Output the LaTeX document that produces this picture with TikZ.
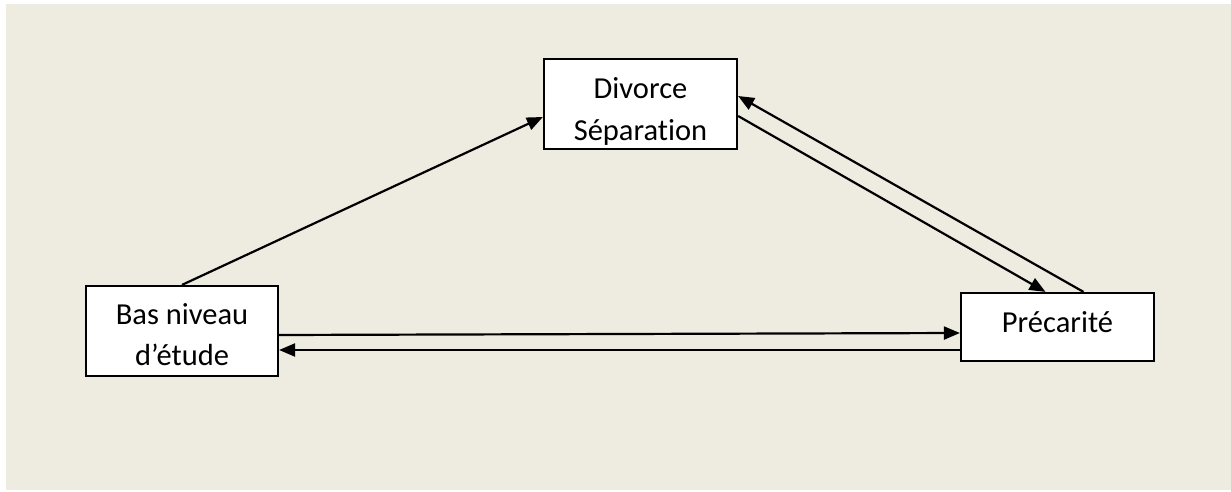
\documentclass[tikz,border=0pt]{standalone}
\usepackage{fontspec}
\setmainfont[Ligatures={NoCommon}]{Carlito}
\usetikzlibrary{arrows.meta}
\definecolor{bgbeige}{HTML}{EEEBE0}
\begin{document}
\begin{tikzpicture}[x=1pt,y=1pt,
  box/.style={draw=black, line width=2.2pt, fill=white, minimum width=193pt,
    minimum height=90pt, inner sep=0pt},
  lbl/.style={font=\fontsize{30.5}{41}\selectfont, align=center, inner sep=0pt},
  link/.style={line width=2.2pt, -{Triangle[length=16pt,width=13pt]}}]
% page and shaded panel
\fill[white] (0,0) rectangle (1231,491);
\fill[bgbeige] (6,1) rectangle (1231,487);
% boxes
\node[box] (div) at (640.5,387) {};
\node[box, minimum width=192pt] (bas) at (182,160) {};
\node[box, minimum height=68pt] (prec) at (1057.5,164) {};
% labels (base anchor sits on the last line)
\node[lbl, anchor=base] (divtxt) at ([yshift=-36pt]div.center) {Divorce\\Séparation};
\node[lbl, anchor=base] (bastxt) at ([yshift=-34pt]bas.center) {Bas niveau\\d’étude};
\node[lbl, anchor=base] (prectxt) at ([yshift=-5pt]prec.center) {Précarité};
% links
\draw[link] (bas.north) -- ([yshift=-13pt]div.west);
\draw[link] ([yshift=-12pt]div.east) -- ([xshift=-12pt]prec.north);
\draw[link] ([xshift=26pt]prec.north) -- ([yshift=8pt]div.east);
\draw[link] ([yshift=-4pt]bas.east) -- ([yshift=-6pt]prec.west);
\draw[link] ([yshift=-23pt]prec.west) -- ([yshift=-19pt]bas.east);
\end{tikzpicture}
\end{document}
